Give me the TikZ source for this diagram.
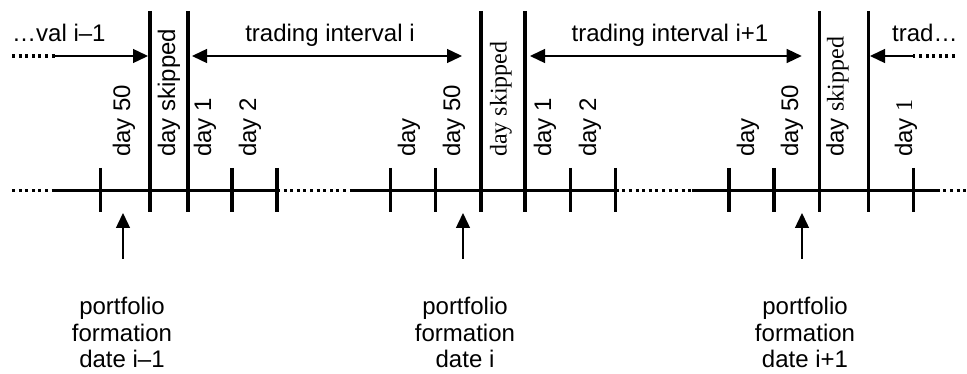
\documentclass[tikz,border=0pt]{standalone}
\usepackage{fontspec}
\setmainfont{Liberation Sans}
\newfontfamily\serfont{Liberation Serif}
\usetikzlibrary{arrows.meta}
\begin{document}
\begin{tikzpicture}[x=1pt,y=-1pt,
  axis/.style={line width=3.5pt},
  dots/.style={line width=3.5pt, dash pattern=on 3pt off 3.6pt},
  tickmark/.style={line width=3.5pt},
  bound/.style={line width=3.6pt},
  span/.style={line width=1.4pt, -{Triangle[length=15pt,width=14pt]}},
  dspan/.style={line width=1.4pt, {Triangle[length=15pt,width=14pt]}-{Triangle[length=15pt,width=14pt]}},
  daylbl/.style={rotate=90, anchor=west, inner sep=0pt, font=\fontsize{24}{28}\selectfont},
  toplbl/.style={anchor=base, inner sep=0pt, font=\fontsize{24}{28}\selectfont},
  pflbl/.style={align=center, anchor=north, inner sep=0pt, font=\fontsize{24}{26.5}\selectfont},
]
\useasboundingbox (0,0) rectangle (967,374);

% axis
\coordinate (a0) at (12,190.7);
\coordinate (a1) at (55,190.7);
\coordinate (a2) at (277,190.7);
\coordinate (a3) at (350,190.7);
\coordinate (a4) at (615.7,190.7);
\coordinate (a5) at (691.7,190.7);
\coordinate (a6) at (936.7,190.7);
\coordinate (a7) at (967,190.7);
\draw[dots] (a0) -- (a1);
\draw[axis] (a1) -- (a2);
\draw[dots] (a2) -- (a3);
\draw[axis] (a3) -- (a4);
\draw[dots] (a4) -- (a5);
\draw[axis] (a5) -- (a6);
\draw[dots] (a6) -- (a7);

% tick marks
\foreach \x/\n in {100.7/t1, 232/t2, 277/t3, 390.7/t4, 435.7/t5, 570.7/t6, 615.7/t7, 729/t8, 774/t9, 913.3/t10}{
  \coordinate (\n top) at (\x,168);
  \coordinate (\n bot) at (\x,212.5);
  \draw[tickmark] (\n top) -- (\n bot);
}

% boundary lines
\foreach \x/\n in {150/b1, 188/b2, 481/b3, 525/b4, 819.3/b5, 868.3/b6}{
  \coordinate (\n top) at (\x,11);
  \coordinate (\n bot) at (\x,212.5);
  \draw[bound] (\n top) -- (\n bot);
}

% top arrows
\coordinate (l0) at (12,56);
\coordinate (l1) at (55,56);
\coordinate (l2) at (148,56);
\draw[dots] (l0) -- (l1);
\draw[span] (l1) -- (l2);
\coordinate (m1) at (192,56);
\coordinate (m2) at (462,56);
\draw[dspan] (m1) -- (m2);
\coordinate (n1) at (530,56);
\coordinate (n2) at (801.7,56);
\draw[dspan] (n1) -- (n2);
\coordinate (r0) at (955,56);
\coordinate (r1) at (913,56);
\coordinate (r2) at (870,56);
\draw[dots] (r0) -- (r1);
\draw[span] (r1) -- (r2);

% top labels
\node[toplbl, anchor=base west] (tl0) at (12,41.7) {…val i–1};
\node[toplbl] (tl1) at (330,41.7) {trading interval i};
\node[toplbl] (tl2) at (670,41.7) {trading interval i+1};
\node[toplbl, anchor=base west] (tl3) at (892,41.7) {trad…};

% day labels
\node[daylbl] (d1) at (124,157) {day 50};
\node[daylbl] (d2) at (169,157) {day skipped};
\node[daylbl] (d3) at (205,157) {day 1};
\node[daylbl] (d4) at (250,157) {day 2};
\node[daylbl] (d5) at (409,157) {day};
\node[daylbl] (d6) at (454,157) {day 50};
\node[daylbl] (d7) at (501,157) {\serfont day skipped};
\node[daylbl] (d8) at (545,157) {day 1};
\node[daylbl] (d9) at (590,157) {day 2};
\node[daylbl] (d10) at (748,157) {day};
\node[daylbl] (d11) at (792,157) {day 50};
\node[daylbl] (d12) at (837.5,157) {day {\serfont skipped}};
\node[daylbl] (d13) at (906,157) {day {\serfont 1}};

% portfolio formation labels
\node[pflbl] (p1) at (122,297) {portfolio\\formation\\date i–1};
\node[pflbl] (p2) at (465,297) {portfolio\\formation\\date i};
\node[pflbl] (p3) at (805,297) {portfolio\\formation\\date i+1};

% upward arrows
\coordinate (u1s) at (123,259);
\coordinate (u1e) at (123,213);
\coordinate (u2s) at (463,259);
\coordinate (u2e) at (463,213);
\coordinate (u3s) at (802,259);
\coordinate (u3e) at (802,213);
\draw[span] (u1s) -- (u1e);
\draw[span] (u2s) -- (u2e);
\draw[span] (u3s) -- (u3e);
\end{tikzpicture}
\end{document}
